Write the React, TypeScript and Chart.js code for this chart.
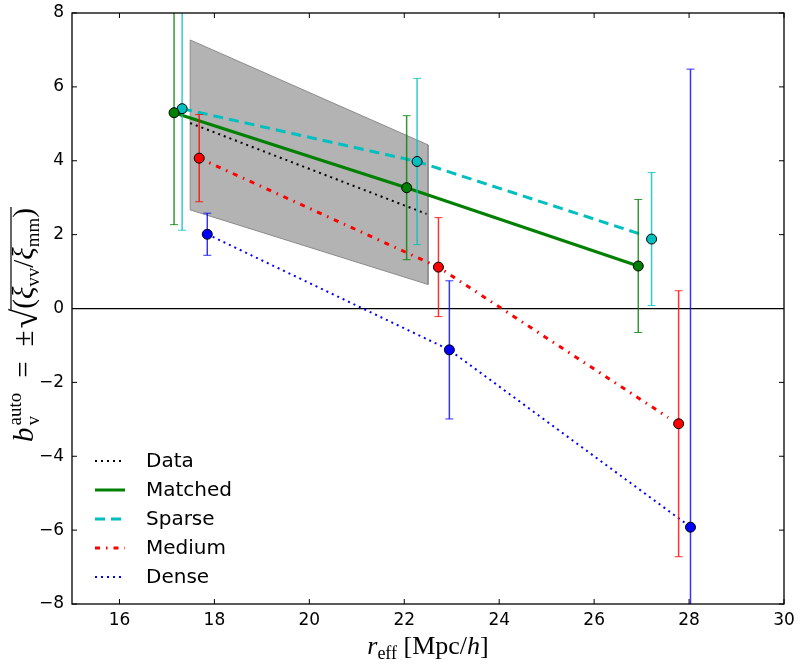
import { useEffect, useRef } from 'react'
import Chart from 'chart.js/auto'

// tick positions
const xTicks = [16, 18, 20, 22, 24, 26, 28, 30]
const yTicks = [-8, -6, -4, -2, 0, 2, 4, 6, 8]

// shaded band around the data curve
const bandX = [17.49, 22.5]
const bandUpper = [7.27, 4.43]
const bandLower = [2.67, 0.65]

// data curve
const dataX = [17.49, 22.47]
const dataY = [5.02, 2.56]

// mock samples: markers + error bars, and the connecting lines
const matchedX = [17.15, 22.05, 26.93]
const matchedY = [5.3, 3.27, 1.15]
const matchedErr = [3.03, 1.95, 1.8]
const matchedLineX = [17.15, 22.05, 26.93]
const matchedLineY = [5.3, 3.27, 1.15]

const sparseX = [17.32, 22.27, 27.21]
const sparseY = [5.41, 3.98, 1.88]
const sparseErr = [3.29, 2.25, 1.8]
const sparseLineX = [17.32, 22.27, 26.96]
const sparseLineY = [5.41, 3.98, 2.02]

const mediumX = [17.68, 22.72, 27.78]
const mediumY = [4.07, 1.12, -3.12]
const mediumErr = [1.18, 1.34, 3.6]
const mediumLineX = [17.68, 22.72, 27.56]
const mediumLineY = [4.07, 1.12, -2.95]

const denseX = [17.85, 22.95, 28.03]
const denseY = [2.01, -1.12, -5.92]
const denseErr = [0.57, 1.87, 12.4]
const denseLineX = [17.85, 22.95, 27.94]
const denseLineY = [2.01, -1.12, -5.83]

const pts = (xs: number[], ys: number[]) => xs.map((x, i) => ({ x, y: ys[i] }))

type Piece = { t: string; f: string; dy?: number; back?: boolean; over?: boolean; pad?: number }

// draw a run of text pieces (sub/superscripts), centred on x0
function drawPieces(ctx: CanvasRenderingContext2D, pieces: Piece[], x0: number, y0: number, barY = -22) {
  const pos: { x: number; w: number }[] = []
  let cur = 0
  let lastStart = 0
  let lastW = 0
  pieces.forEach((p) => {
    ctx.font = p.f
    const w = ctx.measureText(p.t).width
    if (p.back) {
      pos.push({ x: lastStart, w })
      cur = lastStart + Math.max(lastW, w)
    } else {
      cur += p.pad || 0
      pos.push({ x: cur, w })
      lastStart = cur
      lastW = w
      cur += w
    }
  })
  const start = x0 - cur / 2
  let overL = Infinity
  let overR = -Infinity
  pieces.forEach((p, i) => {
    ctx.font = p.f
    ctx.fillText(p.t, start + pos[i].x, y0 + (p.dy || 0))
    if (p.over) {
      overL = Math.min(overL, start + pos[i].x)
      overR = Math.max(overR, start + pos[i].x + pos[i].w)
    }
  })
  if (overL < overR) {
    ctx.lineWidth = 1.2
    ctx.strokeStyle = 'black'
    ctx.beginPath()
    ctx.moveTo(overL - 1, y0 + barY)
    ctx.lineTo(overR + 1, y0 + barY)
    ctx.stroke()
  }
}

const rm = (s: number) => `${s}px "Liberation Serif"`
const it = (s: number) => `italic ${s}px "Liberation Serif"`

const errorBars = {
  id: 'errorBars',
  beforeDatasetDraw(chart: any, args: any) {
    const ds = chart.data.datasets[args.index]
    if (!ds.errors) return
    const { ctx, chartArea: a, scales } = chart
    ctx.save()
    ctx.beginPath()
    ctx.rect(a.left, a.top, a.right - a.left, a.bottom - a.top)
    ctx.clip()
    ctx.strokeStyle = ds.errorColor
    ds.data.forEach((p: any, i: number) => {
      const px = scales.x.getPixelForValue(p.x)
      const top = scales.y.getPixelForValue(p.y + ds.errors[i])
      const bot = scales.y.getPixelForValue(p.y - ds.errors[i])
      ctx.lineWidth = 1.5
      ctx.beginPath()
      ctx.moveTo(px, top)
      ctx.lineTo(px, bot)
      ctx.stroke()
      ctx.lineWidth = 1
      ctx.beginPath()
      ctx.moveTo(px - 4, top)
      ctx.lineTo(px + 4, top)
      ctx.moveTo(px - 4, bot)
      ctx.lineTo(px + 4, bot)
      ctx.stroke()
    })
    ctx.restore()
  },
}

const frame = {
  id: 'frame',
  afterDatasetsDraw(chart: any) {
    const { ctx, chartArea: a, scales } = chart
    ctx.save()
    ctx.strokeStyle = 'black'
    ctx.lineWidth = 1
    xTicks.forEach((v) => {
      const px = scales.x.getPixelForValue(v)
      ctx.beginPath()
      ctx.moveTo(px, a.bottom)
      ctx.lineTo(px, a.bottom - 5)
      ctx.moveTo(px, a.top)
      ctx.lineTo(px, a.top + 5)
      ctx.stroke()
    })
    yTicks.forEach((v) => {
      const py = scales.y.getPixelForValue(v)
      ctx.beginPath()
      ctx.moveTo(a.left, py)
      ctx.lineTo(a.left + 5, py)
      ctx.moveTo(a.right, py)
      ctx.lineTo(a.right - 5, py)
      ctx.stroke()
    })
    ctx.lineWidth = 1.3
    ctx.strokeRect(a.left, a.top, a.right - a.left, a.bottom - a.top)
    ctx.restore()
  },
}

const legendAndTitles = {
  id: 'legendAndTitles',
  afterDraw(chart: any) {
    const { ctx, chartArea: a } = chart
    ctx.save()
    // legend
    const items = chart.data.datasets.filter((d: any) => d.inLegend)
    ctx.textBaseline = 'middle'
    ctx.textAlign = 'left'
    items.forEach((d: any, i: number) => {
      const yy = a.bottom - 143 + i * 29
      ctx.strokeStyle = d.borderColor
      ctx.lineWidth = d.borderWidth
      ctx.setLineDash(d.borderDash || [])
      ctx.beginPath()
      ctx.moveTo(a.left + 23, yy)
      ctx.lineTo(a.left + 53, yy)
      ctx.stroke()
      ctx.setLineDash([])
      ctx.fillStyle = 'black'
      ctx.font = '20px "DejaVu Sans"'
      ctx.fillText(d.label, a.left + 74, yy + 1)
    })

    // axis titles
    ctx.textBaseline = 'alphabetic'
    ctx.fillStyle = 'black'
    drawPieces(
      ctx,
      [
        { t: 'r', f: it(26) },
        { t: 'eff', f: rm(18), dy: 5 },
        { t: ' [Mpc/', f: rm(26) },
        { t: 'h', f: it(26) },
        { t: ']', f: rm(26) },
      ],
      (a.left + a.right) / 2,
      654,
    )

    ctx.translate(33, 325)
    ctx.rotate(-Math.PI / 2)
    drawPieces(
      ctx,
      [
        { t: 'b', f: it(29) },
        { t: 'auto', f: rm(19), dy: -12, pad: 2 },
        { t: 'v', f: rm(19), dy: 6, back: true },
        { t: '=', f: rm(29), pad: 15 },
        { t: '±', f: rm(29), pad: 15 },
        { t: '√', f: rm(36), dy: 4, pad: 2 },
        { t: '(', f: rm(29), over: true, pad: 0 },
        { t: 'ξ', f: it(29), over: true },
        { t: 'vv', f: rm(19), dy: 6, over: true },
        { t: '/', f: rm(29), over: true },
        { t: 'ξ', f: it(29), over: true },
        { t: 'mm', f: rm(19), dy: 6, over: true },
        { t: ')', f: rm(29), over: true },
      ],
      0,
      0,
      -22,
    )
    ctx.restore()
  },
}

const green = '#008000'
const cyan = '#00bfbf'
const red = '#ff0000'
const blue = '#0000ff'

export default function App() {
  const canvasRef = useRef<HTMLCanvasElement | null>(null)
  const chartRef = useRef<Chart | null>(null)

  useEffect(() => {
    document.body.style.margin = '0'
    if (!canvasRef.current) return

    const band = [
      ...pts(bandX, bandUpper),
      ...pts(bandX, bandLower).reverse(),
      { x: bandX[0], y: bandUpper[0] },
    ]

    const line = (label: string, xs: number[], ys: number[], color: string, width: number, dash: number[]) => ({
      label,
      data: pts(xs, ys),
      borderColor: color,
      borderWidth: width,
      borderDash: dash,
      borderCapStyle: 'butt',
      pointRadius: 0,
      fill: false,
      tension: 0,
      order: 2,
      inLegend: true,
    })

    const markers = (xs: number[], ys: number[], errs: number[], color: string, errColor: string) => ({
      label: '',
      data: pts(xs, ys),
      showLine: false,
      pointRadius: 5,
      pointBackgroundColor: color,
      pointBorderColor: 'black',
      pointBorderWidth: 1,
      errors: errs,
      errorColor: errColor,
      order: 1,
    })

    chartRef.current = new Chart(canvasRef.current, {
      type: 'line',
      data: {
        datasets: [
          {
            label: 'band',
            data: band,
            borderColor: '#8c8c8c',
            borderWidth: 1,
            backgroundColor: '#b3b3b3',
            fill: 'shape',
            pointRadius: 0,
            order: 3,
          },
          line('Data', dataX, dataY, 'black', 2, [2, 4]),
          line('Matched', matchedLineX, matchedLineY, green, 3, []),
          line('Sparse', sparseLineX, sparseLineY, cyan, 3, [10, 6]),
          line('Medium', mediumLineX, mediumLineY, red, 3, [5, 6, 1.5, 6]),
          line('Dense', denseLineX, denseLineY, blue, 2, [2, 4]),
          markers(matchedX, matchedY, matchedErr, green, 'rgba(0,128,0,0.8)'),
          markers(sparseX, sparseY, sparseErr, cyan, 'rgba(0,191,191,0.8)'),
          markers(mediumX, mediumY, mediumErr, red, 'rgba(255,0,0,0.8)'),
          markers(denseX, denseY, denseErr, blue, 'rgba(0,0,255,0.8)'),
        ] as any,
      },
      options: {
        animation: false,
        responsive: true,
        maintainAspectRatio: false,
        layout: { padding: { top: 13, right: 16, left: 0, bottom: 0 } },
        plugins: {
          legend: { display: false },
          tooltip: { enabled: false },
        },
        scales: {
          x: {
            type: 'linear',
            min: 15,
            max: 30,
            afterBuildTicks: (scale: any) => {
              scale.ticks = xTicks.map((v) => ({ value: v }))
            },
            afterFit: (scale: any) => {
              scale.height = 66
              scale.paddingLeft = 0
              scale.paddingRight = 0
            },
            grid: { display: false, drawTicks: false },
            border: { display: false },
            ticks: {
              autoSkip: false,
              maxRotation: 0,
              padding: 6,
              color: 'black',
              font: { family: 'DejaVu Sans', size: 17 },
            },
          },
          y: {
            type: 'linear',
            min: -8,
            max: 8,
            afterBuildTicks: (scale: any) => {
              scale.ticks = yTicks.map((v) => ({ value: v }))
            },
            afterFit: (scale: any) => {
              scale.width = 72
              scale.paddingTop = 0
              scale.paddingBottom = 0
            },
            grid: {
              drawTicks: false,
              color: (c: any) => (c.tick && c.tick.value === 0 ? 'black' : 'rgba(0,0,0,0)'),
              lineWidth: 1.2,
            },
            border: { display: false },
            ticks: {
              padding: 8,
              color: 'black',
              font: { family: 'DejaVu Sans', size: 17 },
              callback: (v: any) => String(v).replace('-', '\u2212'),
            },
          },
        },
      },
      plugins: [errorBars, frame, legendAndTitles],
    })

    return () => {
      if (chartRef.current) {
        chartRef.current.destroy()
        chartRef.current = null
      }
    }
  }, [])

  return (
    <div style={{ position: 'relative', width: 800, height: 670 }}>
      <canvas ref={canvasRef} />
    </div>
  )
}
